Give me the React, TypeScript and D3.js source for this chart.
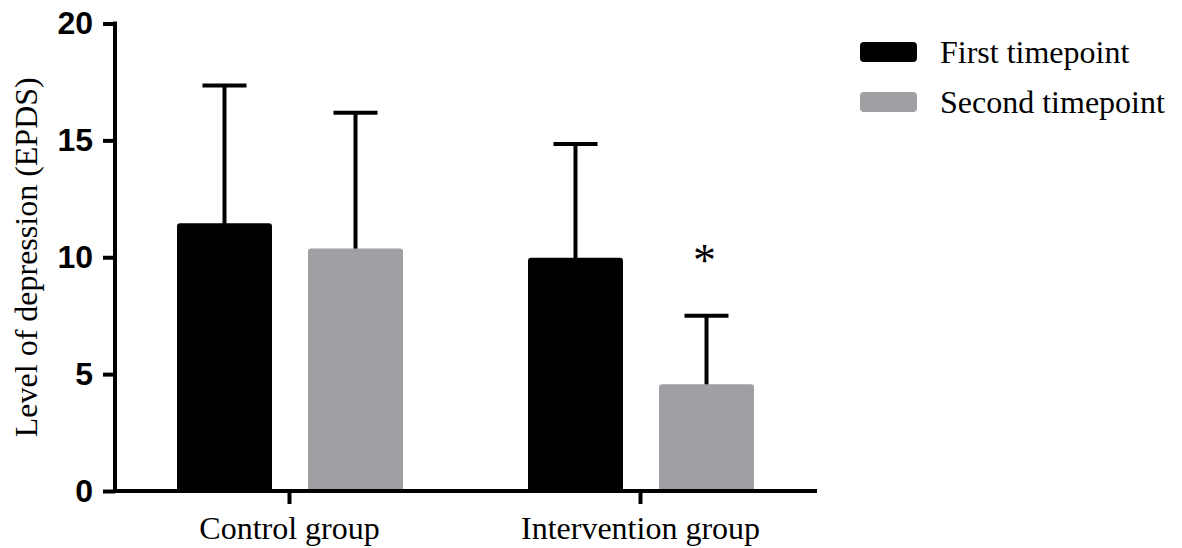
import { useRef, useEffect } from 'react';
import * as d3 from 'd3';

const groups = ['Control group', 'Intervention group'];
const series = ['First timepoint', 'Second timepoint'];
const means = [
  [11.45, 10.37],
  [9.98, 4.57],
];
const upperErr = [
  [17.35, 16.18],
  [14.85, 7.5],
];
const marks = [
  ['', ''],
  ['', '*'],
];
const yTicks = [0, 5, 10, 15, 20];
const colors = ['#000000', '#a09fa4'];

export default function App() {
  const svgRef = useRef(null);

  useEffect(() => {
    const w = 1182;
    const h = 548;
    const svg = d3.select(svgRef.current)
      .attr('width', w)
      .attr('height', h)
      .style('background', '#fff');
    svg.selectAll('*').remove();

    const yScale = d3.scaleLinear()
      .domain([0, 20])
      .range([491, 23.5]);
    const xScale = d3.scaleBand()
      .domain(groups)
      .range([114, 816]);
    const inner = d3.scaleBand()
      .domain(series)
      .range([63, 289])
      .paddingInner(0.275);

    // bars
    groups.forEach((g, gi) => {
      series.forEach((s, si) => {
        const x0 = xScale(g) + inner(s);
        const cx = x0 + inner.bandwidth() / 2;
        const top = yScale(means[gi][si]);
        const errTop = yScale(upperErr[gi][si]);
        svg.append('line')
          .attr('x1', cx).attr('x2', cx)
          .attr('y1', top + 2).attr('y2', errTop)
          .attr('stroke', '#000')
          .attr('stroke-width', 4);
        svg.append('line')
          .attr('x1', cx - 22).attr('x2', cx + 22)
          .attr('y1', errTop).attr('y2', errTop)
          .attr('stroke', '#000')
          .attr('stroke-width', 4);
        svg.append('rect')
          .attr('x', x0)
          .attr('y', top)
          .attr('width', inner.bandwidth())
          .attr('height', yScale(0) - top + 2)
          .attr('rx', 3)
          .attr('fill', colors[si]);
        if (marks[gi][si]) {
          svg.append('text')
            .attr('x', cx - 2)
            .attr('y', errTop - 40)
            .attr('text-anchor', 'middle')
            .style('font-family', '"Liberation Serif", serif')
            .style('font-size', '46px')
            .text(marks[gi][si]);
        }
      });
    });

    // y axis
    const yAxis = d3.axisLeft(yScale)
      .tickValues(yTicks)
      .tickSize(12)
      .tickSizeOuter(0)
      .tickPadding(10);
    const yg = svg.append('g')
      .attr('transform', 'translate(115,0)')
      .call(yAxis);
    yg.select('.domain').attr('stroke-width', 4).attr('d', `M0,${yScale(20) - 2}V${yScale(0) + 2}`);
    yg.selectAll('.tick line').attr('stroke-width', 4);
    yg.selectAll('.tick text')
      .style('font-family', '"Liberation Sans", Arial, sans-serif')
      .style('font-weight', 'bold')
      .style('font-size', '32px')
      .attr('fill', '#000');

    // x axis
    const xAxis = d3.axisBottom(xScale)
      .tickSize(13)
      .tickSizeOuter(0)
      .tickPadding(12);
    const xg = svg.append('g')
      .attr('transform', `translate(0,${yScale(0)})`)
      .call(xAxis);
    xg.select('.domain').attr('stroke-width', 4).attr('d', 'M113,0H817');
    xg.selectAll('.tick line').attr('stroke-width', 4);
    xg.selectAll('.tick text')
      .style('font-family', '"Liberation Serif", "Times New Roman", serif')
      .style('font-size', '32px')
      .attr('fill', '#000');

    // y label
    svg.append('text')
      .attr('transform', `translate(37,${yScale(10)}) rotate(-90)`)
      .attr('text-anchor', 'middle')
      .style('font-family', '"Liberation Serif", "Times New Roman", serif')
      .style('font-size', '32px')
      .text('Level of depression (EPDS)');

    // legend
    series.forEach((s, i) => {
      const cy = 52 + i * 50;
      svg.append('rect')
        .attr('x', 860)
        .attr('y', cy - 10)
        .attr('width', 57)
        .attr('height', 20)
        .attr('rx', 4)
        .attr('fill', colors[i]);
      svg.append('text')
        .attr('x', 940)
        .attr('y', cy + 11)
        .style('font-family', '"Liberation Serif", "Times New Roman", serif')
        .style('font-size', '32px')
        .text(s);
    });
  }, []);

  return (
    <svg ref={svgRef} style={{ position: 'absolute', left: 0, top: 0 }}></svg>
  );
}
